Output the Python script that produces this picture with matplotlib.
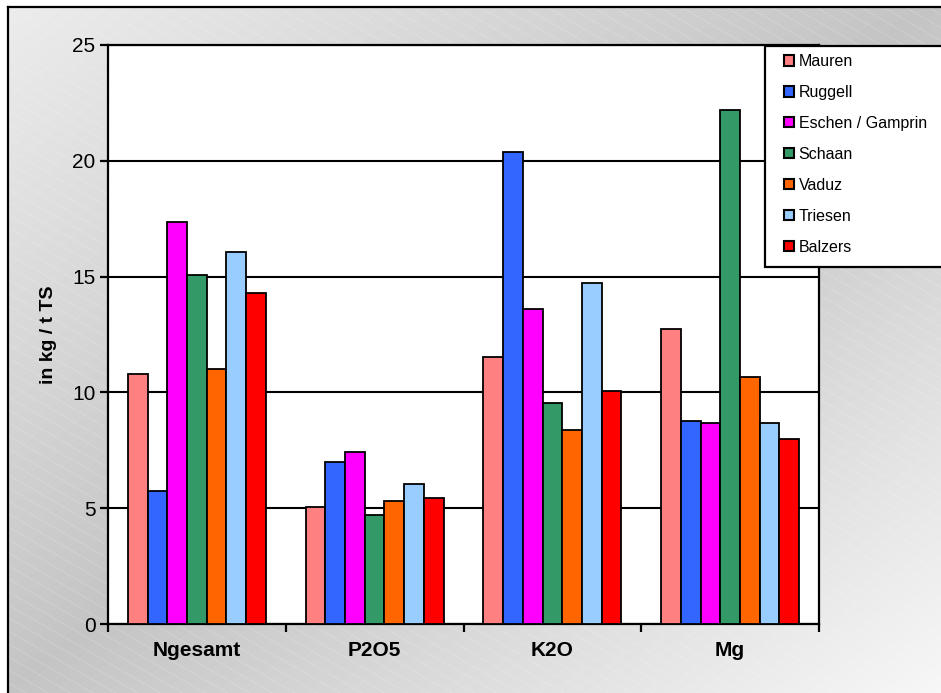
import numpy as np
import matplotlib.pyplot as plt
from matplotlib.patches import Rectangle

plt.rcParams['font.family'] = ['Liberation Sans', 'DejaVu Sans']

categories = ['Ngesamt', 'P2O5', 'K2O', 'Mg']
regions = ['Mauren', 'Ruggell', 'Eschen / Gamprin', 'Schaan', 'Vaduz', 'Triesen', 'Balzers']
colors = ['#FF8080', '#3366FF', '#FF00FF', '#339966', '#FF6600', '#99CCFF', '#FF0000']

values = {
    'Mauren':           [10.8, 5.05, 11.55, 12.75],
    'Ruggell':          [5.75, 7.0, 20.4, 8.75],
    'Eschen / Gamprin': [17.35, 7.43, 13.6, 8.68],
    'Schaan':           [15.05, 4.72, 9.56, 22.2],
    'Vaduz':            [11.0, 5.33, 8.38, 10.65],
    'Triesen':          [16.07, 6.03, 14.72, 8.7],
    'Balzers':          [14.3, 5.45, 10.08, 8.0],
}

W, H = 941, 693
fig = plt.figure(figsize=(W / 100, H / 100), dpi=100)
fig.patch.set_facecolor('white')

# background: grey diagonal gradient with faint white hatch lines
bg = fig.add_axes([0, 0, 1, 1], zorder=0)
bg.set_xlim(0, W)
bg.set_ylim(H, 0)
bg.axis('off')
xx, yy = np.meshgrid(np.arange(W), np.arange(H))
t = (xx / W + yy / H) / 2
shade = np.where(t < 0.5, 0.93 - (0.93 - 0.77) * (t / 0.5), 0.77 + (0.97 - 0.77) * ((t - 0.5) / 0.5))
img = np.dstack([shade] * 3)
frame_x, frame_y = 8, 7
bg.imshow(img, extent=(0, W, H, 0), aspect='auto', zorder=0)
bg.add_patch(Rectangle((0, 0), W, frame_y, color='white', zorder=1, lw=0))
bg.add_patch(Rectangle((0, 0), frame_x, H, color='white', zorder=1, lw=0))
for c in np.arange(-700, W + 100, 13):
    xs = np.array([0, W + 700])
    bg.plot(xs, c + 0.58 * xs, color='white', lw=0.6, alpha=0.2, zorder=0.5)
bg.plot([frame_x, W + 5], [frame_y, frame_y], color='black', lw=1.6, zorder=2)
bg.plot([frame_x, frame_x], [frame_y, H + 5], color='black', lw=1.6, zorder=2)

# bar chart
ax = fig.add_axes([108 / W, 1 - 624 / H, (819 - 108) / W, (624 - 45) / H], zorder=2)
ax.set_facecolor('white')
x = np.arange(len(categories))
w = 0.111
for i, name in enumerate(regions):
    ax.bar(x + (i - 3) * w, values[name], width=w, color=colors[i],
           edgecolor='black', linewidth=1.3, zorder=3)

ax.set_xlim(-0.5, 3.5)
ax.set_ylim(0, 25)
ax.set_yticks([0, 5, 10, 15, 20, 25])
ax.set_xticks(x)
ax.set_xticklabels(categories, fontsize=15, fontweight='bold')
ax.set_xticks(np.arange(-0.5, 4, 1), minor=True)
ax.tick_params(axis='x', which='major', length=0, pad=12)
ax.tick_params(axis='x', which='minor', length=6, width=1.6, direction='out')
ax.tick_params(axis='y', length=6, width=1.6, direction='out', labelsize=15, pad=3)
ax.grid(axis='y', color='black', linewidth=1.5, zorder=1)
for s in ax.spines.values():
    s.set_linewidth(1.6)
    s.set_color('black')
ax.set_ylabel('in kg / t TS', fontsize=14, fontweight='bold', labelpad=11)

# legend box
lg = fig.add_axes([0, 0, 1, 1], zorder=3)
lg.set_xlim(0, W)
lg.set_ylim(H, 0)
lg.axis('off')
lg.add_patch(Rectangle((765, 46), 190, 221, facecolor='white', edgecolor='black', lw=1.6))
handles = [Rectangle((0, 0), 1, 1, facecolor=c, edgecolor='black', lw=1.5) for c in colors]
leg = lg.legend(handles, regions, loc='upper left', bbox_to_anchor=(780 / W, 1 - 50 / H),
                bbox_transform=fig.transFigure, frameon=False, fontsize=11.5,
                handlelength=0.62, handleheight=0.62, handletextpad=0.3,
                labelspacing=1.0, borderpad=0.25, borderaxespad=0)

fig.savefig('out.png', dpi=100)
